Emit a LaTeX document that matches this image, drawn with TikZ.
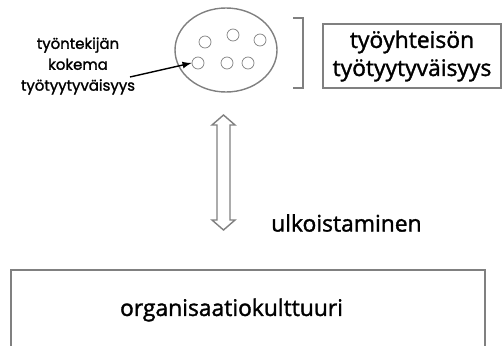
\documentclass[tikz,border=0pt]{standalone}
\usepackage{fontspec}
\setmainfont{Open Sans}
\newfontfamily\bodyfont[FakeBold=1.5]{Open Sans}
\newfontfamily\smallfont[FakeBold=1.5]{Poppins}
\newcommand\mainsize{\bodyfont\fontsize{13}{16}\selectfont}

\begin{document}
\begin{tikzpicture}[
        x=0.02cm, y=-0.02cm,
        box/.style={rectangle, draw=gray, thick, align=center},
        member/.style={circle, draw=gray, minimum width=12*0.02cm, minimum height=10*0.02cm, inner sep=0pt},
        arrow/.style={-latex, thick}
    ]
        \useasboundingbox (0,0) rectangle (502,345);
        \clip (0,0) rectangle (502,345);

        % work community
        \draw[gray, thick] (226,50) ellipse (51 and 42);
        \node[member] (m1) at (205,42) {};
        \node[member] (m2) at (233,35) {};
        \node[member] (m3) at (260,40) {};
        \node[member] (m4) at (198,63) {};
        \node[member] (m5) at (227,63) {};
        \node[member] (m6) at (248,63) {};

        \node[align=center, font=\smallfont\fontsize{8.5}{11.9}\selectfont] (employee) at (78,66) {työntekijän\\kokema\\työtyytyväisyys};
        \coordinate (pointer) at (130,77);
        \draw[arrow] (pointer) -- (m4.west);

        \draw[gray, thick] (293,18) -- (303,18) -- (303,88) -- (293,88);

        \node[box, minimum width=178*0.02cm, minimum height=64*0.02cm, font=\mainsize] (community) at (412,56) {työyhteisön\\työtyytyväisyys};

        % culture
        \node[box, minimum width=474*0.02cm, minimum height=100*0.02cm] (culture) at (248,320) {};
        \node[font=\mainsize] (culturetext) at (231.5,310) {organisaatiokulttuuri};

        \draw[gray, thick] (223.5,115) -- (235,125) -- (230,125) -- (230,220) -- (235,220) -- (223.5,230)
            -- (212,220) -- (217,220) -- (217,125) -- (212,125) -- cycle;
        \node[font=\mainsize, anchor=west] (outsourcing) at (265,223) {ulkoistaminen};
\end{tikzpicture}
\end{document}
